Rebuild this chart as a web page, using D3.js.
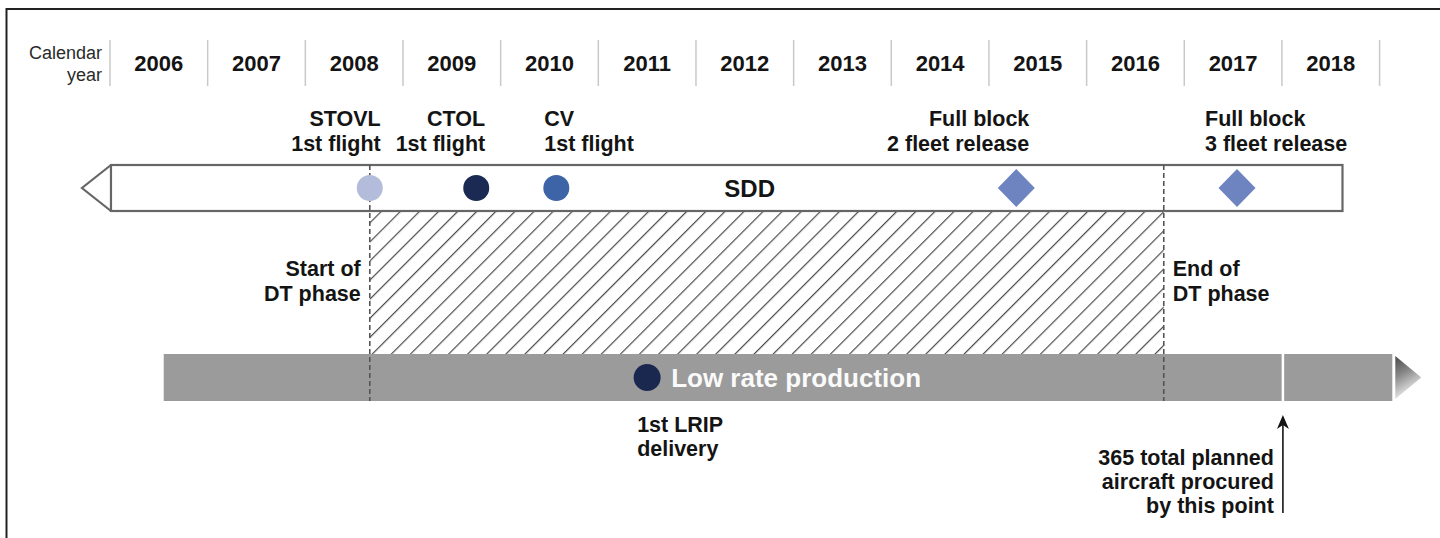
<!DOCTYPE html>
<html>
<head>
<meta charset="utf-8">
<script src="https://cdn.jsdelivr.net/npm/d3@7"></script>
<style>
  html, body { margin: 0; padding: 0; background: #fff; }
  svg { display: block; font-family: "Liberation Sans", Arial, Helvetica, sans-serif; }
</style>
</head>
<body>
<svg id="chart" width="1440" height="538"></svg>
<script>
// ---------- data ----------
const years = [2006, 2007, 2008, 2009, 2010, 2011, 2012, 2013, 2014, 2015, 2016, 2017, 2018];
const axisLabel = ["Calendar", "year"];

const flightNames = ["STOVL", "CTOL", "CV"];
const flightDates = [2008.66, 2009.75, 2010.57];

const releaseNames = ["Full block 2 fleet release", "Full block 3 fleet release"];
const releaseDates = [2015.28, 2017.54];

const sddPhase = [2006.01, 2018.62];
const sddLabel = "SDD";
const sddLabelAt = 2012.55;

const dtPhase = [2008.66, 2016.79];
const dtLabels = [["Start of", "DT phase"], ["End of", "DT phase"]];

const lripPhase = [2006.55, 2019.13];
const lripLabel = "Low rate production";
const lripDelivery = 2011.5;
const lripDeliveryLabel = ["1st LRIP", "delivery"];

const procurementPoint = 2018.01;
const procurementLabel = ["365 total planned", "aircraft procured", "by this point"];

// ---------- setup ----------
const svg = d3.select("#chart");
const x = d3.scaleLinear().domain([2006, 2019]).range([110, 1379.6]);
const ink = "#141414";
const labelSize = 21.5;
const defs = svg.append("defs");

// frame
svg.append("path").attr("d", "M6.5,538 L6.5,9 L1440,9")
  .attr("fill", "none").attr("stroke", "#222").attr("stroke-width", 2);

// ---------- year header ----------
const yearTicks = years.concat([years[years.length - 1] + 1]);
svg.append("g").selectAll("line").data(yearTicks).join("line")
  .attr("x1", d => x(d)).attr("x2", d => x(d))
  .attr("y1", 40).attr("y2", 86)
  .attr("stroke", "#c9c9c9").attr("stroke-width", 1.5);

svg.append("g").selectAll("text").data(years).join("text")
  .attr("x", d => x(d + 0.5)).attr("y", 71)
  .attr("text-anchor", "middle")
  .attr("font-size", 22).attr("font-weight", "bold").attr("fill", ink)
  .text(d => d);

svg.append("g").selectAll("text").data(axisLabel).join("text")
  .attr("x", x(2006) - 8).attr("y", (d, i) => 59 + i * 22)
  .attr("text-anchor", "end").attr("font-size", 18).attr("fill", "#2a2a2a")
  .text(d => d);

// ---------- SDD bar ----------
const sddTop = 165, sddBot = 211, sddMid = (sddTop + sddBot) / 2;
svg.append("path")
  .attr("d", `M${x(sddPhase[0])},${sddTop} L${x(sddPhase[0]) - 29},${sddMid} L${x(sddPhase[0])},${sddBot}`)
  .attr("fill", "#fff").attr("stroke", "#666").attr("stroke-width", 2.2).attr("stroke-linejoin", "miter");
svg.append("rect")
  .attr("x", x(sddPhase[0])).attr("y", sddTop)
  .attr("width", x(sddPhase[1]) - x(sddPhase[0])).attr("height", sddBot - sddTop)
  .attr("fill", "#fff").attr("stroke", "#666").attr("stroke-width", 2.2);

svg.append("text").attr("x", x(sddLabelAt)).attr("y", sddMid + 9)
  .attr("text-anchor", "middle").attr("font-size", 24).attr("font-weight", "bold").attr("fill", ink)
  .text(sddLabel);

// ---------- DT phase hatch ----------
const lripTop = 354, lripBot = 401, lripMid = (lripTop + lripBot) / 2;
const pat = defs.append("pattern").attr("id", "hatch")
  .attr("patternUnits", "userSpaceOnUse").attr("width", 13.5).attr("height", 13.5)
  .attr("patternTransform", "rotate(45)");
pat.append("line").attr("x1", 0).attr("y1", 0).attr("x2", 0).attr("y2", 13.5)
  .attr("stroke", "#4a4a4a").attr("stroke-width", 2.4);

svg.append("rect")
  .attr("x", x(dtPhase[0])).attr("y", sddBot + 1)
  .attr("width", x(dtPhase[1]) - x(dtPhase[0])).attr("height", lripTop - sddBot - 1)
  .attr("fill", "url(#hatch)");

// ---------- LRIP bar ----------
const grad = defs.append("linearGradient").attr("id", "arrowGrad")
  .attr("x1", 0).attr("y1", 0).attr("x2", 0.35).attr("y2", 1);
grad.append("stop").attr("offset", "0%").attr("stop-color", "#474747");
grad.append("stop").attr("offset", "45%").attr("stop-color", "#8a8a8a");
grad.append("stop").attr("offset", "100%").attr("stop-color", "#f4f4f4");

svg.append("rect")
  .attr("x", x(lripPhase[0])).attr("y", lripTop)
  .attr("width", x(lripPhase[1]) - x(lripPhase[0])).attr("height", lripBot - lripTop)
  .attr("fill", "#9b9b9b");
svg.append("path")
  .attr("d", `M${x(lripPhase[1]) + 3},${lripTop + 2} L${x(lripPhase[1]) + 29},${lripMid} L${x(lripPhase[1]) + 3},${lripBot - 2} Z`)
  .attr("fill", "url(#arrowGrad)");

// white marker at procurement point
svg.append("line")
  .attr("x1", x(procurementPoint)).attr("x2", x(procurementPoint))
  .attr("y1", lripTop).attr("y2", lripBot)
  .attr("stroke", "#fff").attr("stroke-width", 2.5);

// ---------- dashed DT boundaries ----------
svg.append("g").selectAll("line").data(dtPhase).join("line")
  .attr("x1", d => x(d)).attr("x2", d => x(d))
  .attr("y1", sddTop).attr("y2", lripBot)
  .attr("stroke", "#555").attr("stroke-width", 1.6).attr("stroke-dasharray", "5,3");

// DT labels
const dtG = svg.append("g");
dtLabels.forEach((lines, i) => {
  dtG.selectAll(null).data(lines).join("text")
    .attr("x", i === 0 ? x(dtPhase[0]) - 9 : x(dtPhase[1]) + 9)
    .attr("y", (d, j) => 276 + j * 25)
    .attr("text-anchor", i === 0 ? "end" : "start")
    .attr("font-size", labelSize).attr("font-weight", "bold").attr("fill", ink)
    .text(d => d);
});

// ---------- first flight milestones ----------
const flightColors = ["#b4bcdc", "#1b2a52", "#3e64a8"];
svg.append("g").selectAll("circle").data(flightDates).join("circle")
  .attr("cx", d => x(d)).attr("cy", sddMid)
  .attr("r", 13)
  .attr("fill", (d, i) => flightColors[i]);

const flightAnchor = ["end", "end", "start"];
const flightOffset = [11, 9, -12];
flightNames.forEach((name, i) => {
  svg.append("g").selectAll("text").data([name, "1st flight"]).join("text")
    .attr("x", x(flightDates[i]) + flightOffset[i])
    .attr("y", (d, j) => 126 + j * 25)
    .attr("text-anchor", flightAnchor[i])
    .attr("font-size", labelSize).attr("font-weight", "bold").attr("fill", ink)
    .text(d => d);
});

// ---------- fleet release diamonds ----------
svg.append("g").selectAll("path").data(releaseDates).join("path")
  .attr("d", d => `M${x(d)},${sddMid - 19} L${x(d) + 18.5},${sddMid} L${x(d)},${sddMid + 19} L${x(d) - 18.5},${sddMid} Z`)
  .attr("fill", "#6e84c0");

const relAnchor = ["end", "start"];
const relOffset = [13, -32];
releaseNames.forEach((name, i) => {
  const lines = [name.slice(0, 10), name.slice(11)];
  svg.append("g").selectAll("text").data(lines).join("text")
    .attr("x", x(releaseDates[i]) + relOffset[i])
    .attr("y", (d, j) => 126 + j * 25)
    .attr("text-anchor", relAnchor[i])
    .attr("font-size", labelSize).attr("font-weight", "bold").attr("fill", ink)
    .text(d => d);
});

// ---------- LRIP delivery ----------
svg.append("circle")
  .attr("cx", x(lripDelivery)).attr("cy", lripMid).attr("r", 13.5)
  .attr("fill", "#1a2850");
svg.append("text")
  .attr("x", x(lripDelivery) + 24).attr("y", lripMid + 9.5)
  .attr("font-size", 26).attr("font-weight", "bold").attr("fill", "#fafafa")
  .text(lripLabel);
svg.append("g").selectAll("text").data(lripDeliveryLabel).join("text")
  .attr("x", x(lripDelivery) - 10).attr("y", (d, j) => 432 + j * 24)
  .attr("font-size", labelSize).attr("font-weight", "bold").attr("fill", ink)
  .text(d => d);

// ---------- procurement arrow ----------
const px = x(procurementPoint);
svg.append("line").attr("x1", px).attr("x2", px).attr("y1", 513).attr("y2", 424)
  .attr("stroke", ink).attr("stroke-width", 1.6);
svg.append("path")
  .attr("d", `M${px},${415} L${px + 6},${429} L${px},${425} L${px - 6},${429} Z`)
  .attr("fill", ink);
svg.append("g").selectAll("text").data(procurementLabel).join("text")
  .attr("x", px - 9).attr("y", (d, j) => 465 + j * 24)
  .attr("text-anchor", "end")
  .attr("font-size", labelSize).attr("font-weight", "bold").attr("fill", ink)
  .text(d => d);
</script>
</body>
</html>
